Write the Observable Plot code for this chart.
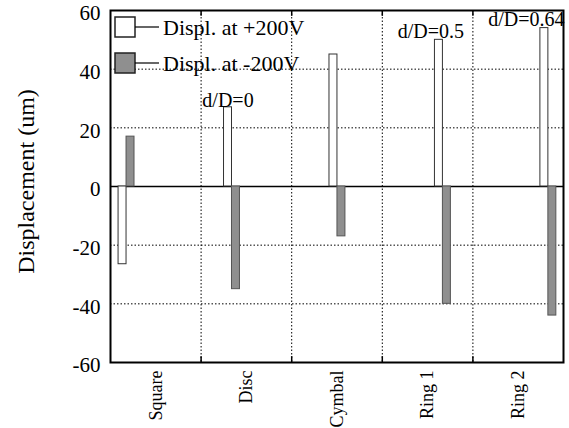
<!DOCTYPE html>
<html><head><meta charset="utf-8">
<script src="https://cdn.jsdelivr.net/npm/d3@7"></script>
<script src="https://cdn.jsdelivr.net/npm/@observablehq/plot@0.6"></script>
<style>
body{margin:0;background:#fff}
</style>
</head><body><div id="chart"></div>
<script>
// ---- data ----
const categories = ["Square", "Disc", "Cymbal", "Ring 1", "Ring 2"];
const plus200 = [-26.5, 27, 45, 50, 54];
const minus200 = [17, -35, -17, -40, -44];
const annotations = ["", "d/D=0", "", "d/D=0.5", "d/D=0.64"];
const seriesNames = ["Displ. at +200V", "Displ. at -200V"];
const yTicks = [-60, -40, -20, 0, 20, 40, 60];
const yTitle = "Displacement (um)";

// ---- layout (not data) ----
const barStart = 0.177, barStep = 1.164, barW = 0.088;
const annDx = [0, 0, 0, -8, -18];
const gray = "#8f8f8f";
const serif = "'Liberation Serif','Times New Roman',serif";

const rows = categories.map((c, i) => {
  const cx = barStart + barStep * i;
  return {i, cat: c, cx, pos: plus200[i], neg: minus200[i], ann: annotations[i]};
});
const grid = d3.range(1, categories.length);

const plot = Plot.plot({
  width: 569, height: 428,
  marginLeft: 110, marginRight: 6, marginTop: 10, marginBottom: 66,
  style: {fontFamily: serif, background: "#fff", color: "#000"},
  x: {domain: [0, categories.length], label: null},
  y: {domain: [-60, 60], label: null},
  marks: [
    Plot.ruleY(yTicks.filter(v => v !== 0 && Math.abs(v) !== 60), {stroke: "#000", strokeWidth: 1, strokeDasharray: "1.5,2"}),
    Plot.ruleX(grid, {stroke: "#000", strokeWidth: 1, strokeDasharray: "1.5,2"}),
    Plot.ruleX(grid, {y1: -60, y2: -58, stroke: "#000", strokeWidth: 1.5}),
    Plot.ruleX(grid, {y1: 60, y2: 58, stroke: "#000", strokeWidth: 1.5}),
    Plot.ruleY([0], {stroke: "#000", strokeWidth: 1.5}),
    Plot.rectY(rows, {x1: d => d.cx - barW, x2: d => d.cx, y1: 0, y2: "pos", fill: "#fff", stroke: "#333", strokeWidth: 1}),
    Plot.rectY(rows, {x1: d => d.cx, x2: d => d.cx + barW, y1: 0, y2: "neg", fill: gray, stroke: "#555", strokeWidth: 1}),
    ...rows.filter(d => d.ann).map(d =>
      Plot.text([d], {x: r => r.cx - barW / 2, y: "pos", text: "ann", lineAnchor: "bottom", dx: annDx[d.i], dy: d.i > 2 ? -2 : 0, fontSize: 20, fill: "#000"})
    ),
    Plot.frame({stroke: "#000", strokeWidth: 2}),
    Plot.axisY({ticks: yTicks, tickFormat: v => String(v), tickSize: 0, tickPadding: 10, dy: 3, fontSize: 21, label: null}),
    Plot.axisX({ticks: categories.map((_, i) => i + 0.5), tickFormat: v => categories[Math.floor(v)], tickRotate: -90, tickSize: 0, tickPadding: 8, fontSize: 18, label: null}),
    Plot.text([yTitle], {frameAnchor: "left", textAnchor: "middle", rotate: -90, dx: -84, dy: -5, fontSize: 24, fill: "#000"})
  ]
});
document.getElementById("chart").appendChild(plot);

// ---- legend inside the plot frame ----
const svg = d3.select(plot);
const lg = svg.append("g").attr("font-family", serif).attr("font-size", 22).attr("text-anchor", "start");
seriesNames.forEach((name, k) => {
  const top = 17 + k * 36;
  lg.append("rect").attr("x", 115).attr("y", top).attr("width", 20).attr("height", 20)
    .attr("fill", k === 0 ? "#fff" : gray).attr("stroke", "#222").attr("stroke-width", 1.5);
  lg.append("line").attr("x1", 135).attr("x2", 159).attr("y1", top + 10).attr("y2", top + 10)
    .attr("stroke", "#000").attr("stroke-width", 1.2);
  lg.append("text").attr("x", 163).attr("y", top + 18).attr("fill", "#000").text(name);
});
</script>
</body></html>
